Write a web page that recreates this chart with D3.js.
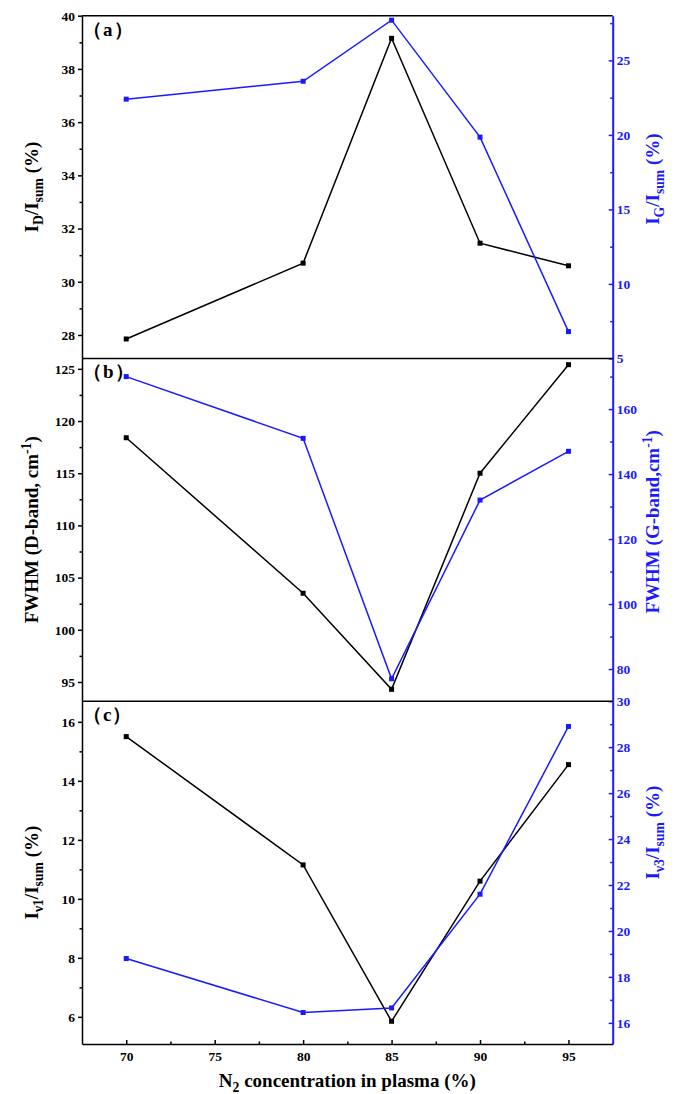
<!DOCTYPE html>
<html>
<head>
<meta charset="utf-8">
<script src="https://cdn.jsdelivr.net/npm/d3@7"></script>
<style>
  body { margin: 0; background: #fff; }
  svg text { font-family: "Liberation Serif", "Times New Roman", serif; font-weight: bold; }
</style>
</head>
<body>
<div id="chart"></div>
<script>
// N2 concentration (x)
const nitrogen = [70, 80, 85, 90, 95];

// panel (a)
const idRatio = [27.85, 30.7, 39.15, 31.45, 30.6];
const igRatio = [22.4, 23.6, 27.7, 19.85, 6.8];
// panel (b)
const fwhmD = [118.4, 103.5, 94.3, 115.0, 125.4];
const fwhmG = [170, 151, 77, 132, 147];
// panel (c)
const iv1Ratio = [15.5, 11.15, 5.85, 10.6, 14.55];
const iv3Ratio = [18.8, 16.45, 16.65, 21.6, 28.9];

const xTicks = [70, 75, 80, 85, 90, 95];
const xMinor = [72.5, 77.5, 82.5, 87.5, 92.5];

const W = 674, H = 1094;
const plotL = 82, plotR = 612.7;
const tops = [15.7, 358.4, 701.2, 1044];
const BLUE = "#1a1aff";

const svg = d3.select("#chart").append("svg")
    .attr("width", W)
    .attr("height", H);

const x = d3.scaleLinear().domain([67.5, 97.5]).range([plotL, plotR]);

const panels = [
    {
        tag: "（a）",
        left: idRatio, right: igRatio,
        lDomain: [27.12, 40], rDomain: [5, 28],
        lTicks: d3.range(28, 41, 2), lMinor: d3.range(29, 40, 2),
        rTicks: [5, 10, 15, 20, 25], rMinor: [7.5, 12.5, 17.5, 22.5, 27.5],
        lTitle: [["I"], ["D", "sub"], ["/I"], ["sum", "sub"], [" (%)"]],
        rTitle: [["I"], ["G", "sub"], ["/I"], ["sum", "sub"], [" (%)"]],
        rShift: -8
    },
    {
        tag: "（b）",
        left: fwhmD, right: fwhmG,
        lDomain: [93.16, 126], rDomain: [70.1, 175.6],
        lTicks: d3.range(95, 126, 5), lMinor: d3.range(97.5, 125, 5),
        rTicks: [80, 100, 120, 140, 160], rMinor: [90, 110, 130, 150, 170],
        lTitle: [["FWHM (D-band, cm"], ["-1", "sup"], [")"]],
        rTitle: [["FWHM (G-band,cm"], ["-1", "sup"], [")"]],
        rShift: -8
    },
    {
        tag: "（c）",
        left: iv1Ratio, right: iv3Ratio,
        lDomain: [5.08, 16.7], rDomain: [15.08, 30],
        lTicks: d3.range(6, 17, 2), lMinor: d3.range(7, 17, 2),
        rTicks: d3.range(16, 31, 2), rMinor: d3.range(17, 30, 2),
        lTitle: [["I"], ["ν1", "sub"], ["/I"], ["sum", "sub"], [" (%)"]],
        rTitle: [["I"], ["ν3", "sub"], ["/I"], ["sum", "sub"], [" (%)"]],
        rShift: -40
    }
];

function richText(sel, parts) {
    let shift = 0;
    parts.forEach(([t, kind]) => {
        const target = kind === "sub" ? 5 : kind === "sup" ? -7 : 0;
        const ts = sel.append("tspan")
            .attr("dy", target - shift)
            .text(t);
        if (kind) ts.attr("font-size", "0.72em");
        shift = target;
    });
}

function styleAxis(g, color, width) {
    g.select(".domain").attr("stroke", color).attr("stroke-width", width);
    g.selectAll(".tick line").attr("stroke", color).attr("stroke-width", 1.5);
    g.selectAll(".tick text")
        .attr("fill", color)
        .attr("font-size", 13.5)
        .attr("font-family", "Liberation Serif, serif")
        .attr("font-weight", "bold");
}

panels.forEach((p, i) => {
    const y0 = tops[i], y1 = tops[i + 1];
    const yL = d3.scaleLinear().domain(p.lDomain).range([y1, y0]);
    const yR = d3.scaleLinear().domain(p.rDomain).range([y1, y0]);
    const g = svg.append("g");

    // left axis (black, ticks outward)
    const gl = g.append("g").attr("transform", `translate(${plotL},0)`)
        .call(d3.axisLeft(yL).tickValues(p.lTicks).tickSize(4).tickPadding(3).tickSizeOuter(0));
    styleAxis(gl, "#000", 1.5);
    g.append("g").attr("transform", `translate(${plotL},0)`)
        .call(d3.axisLeft(yL).tickValues(p.lMinor).tickSize(2.5).tickFormat("").tickSizeOuter(0))
        .call(s => { s.select(".domain").remove(); s.selectAll("line").attr("stroke", "#000").attr("stroke-width", 1.5); });

    // right axis (blue, ticks inward)
    const gr = g.append("g").attr("transform", `translate(${plotR},0)`)
        .call(d3.axisRight(yR).tickValues(p.rTicks).tickSizeInner(-4).tickSizeOuter(0).tickPadding(4));
    styleAxis(gr, BLUE, 2);
    g.append("g").attr("transform", `translate(${plotR},0)`)
        .call(d3.axisRight(yR).tickValues(p.rMinor).tickSizeInner(-2.5).tickSizeOuter(0).tickFormat(""))
        .call(s => { s.select(".domain").remove(); s.selectAll("line").attr("stroke", BLUE).attr("stroke-width", 1.5); });

    // top border of panel
    g.append("line")
        .attr("x1", plotL).attr("x2", plotR)
        .attr("y1", y0).attr("y2", y0)
        .attr("stroke", "#000").attr("stroke-width", 1.5);

    // panel tag
    g.append("text")
        .attr("x", plotL + 1).attr("y", y0 + 20)
        .attr("font-size", 19)
        .attr("letter-spacing", 1)
        .text(p.tag);

    // titles
    const lt = g.append("text")
        .attr("transform", `translate(38,${(y0 + y1) / 2}) rotate(-90)`)
        .attr("text-anchor", "middle")
        .attr("font-size", 19)
        .attr("fill", "#000");
    richText(lt, p.lTitle);
    const rt = g.append("text")
        .attr("transform", `translate(659,${(y0 + y1) / 2 + p.rShift}) rotate(-90)`)
        .attr("text-anchor", "middle")
        .attr("font-size", 19)
        .attr("fill", BLUE);
    richText(rt, p.rTitle);

    // series
    const line = s => d3.line().x((d, j) => x(nitrogen[j])).y(d => s(d));
    [[p.left, yL, "#000"], [p.right, yR, BLUE]].forEach(([vals, sc, col]) => {
        g.append("path")
            .datum(vals)
            .attr("fill", "none")
            .attr("stroke", col)
            .attr("stroke-width", 1.5)
            .attr("d", line(sc));
        g.selectAll(null)
            .data(vals)
            .enter()
            .append("rect")
            .attr("x", (d, j) => x(nitrogen[j]) - 2.5)
            .attr("y", d => sc(d) - 2.5)
            .attr("width", 5)
            .attr("height", 5)
            .attr("fill", col);
    });
});

// bottom x axis (ticks inward)
const gx = svg.append("g").attr("transform", `translate(0,${tops[3]})`)
    .call(d3.axisBottom(x).tickValues(xTicks).tickSizeInner(-4).tickSizeOuter(0).tickPadding(7));
styleAxis(gx, "#000", 1.5);
svg.append("g").attr("transform", `translate(0,${tops[3]})`)
    .call(d3.axisBottom(x).tickValues(xMinor).tickSizeInner(-2.5).tickSizeOuter(0).tickFormat(""))
    .call(s => { s.select(".domain").remove(); s.selectAll("line").attr("stroke", "#000").attr("stroke-width", 1.5); });

const xt = svg.append("text")
    .attr("x", (plotL + plotR) / 2)
    .attr("y", 1087)
    .attr("text-anchor", "middle")
    .attr("font-size", 19);
richText(xt, [["N"], ["2", "sub"], [" concentration in plasma (%)"]]);
</script>
</body>
</html>
